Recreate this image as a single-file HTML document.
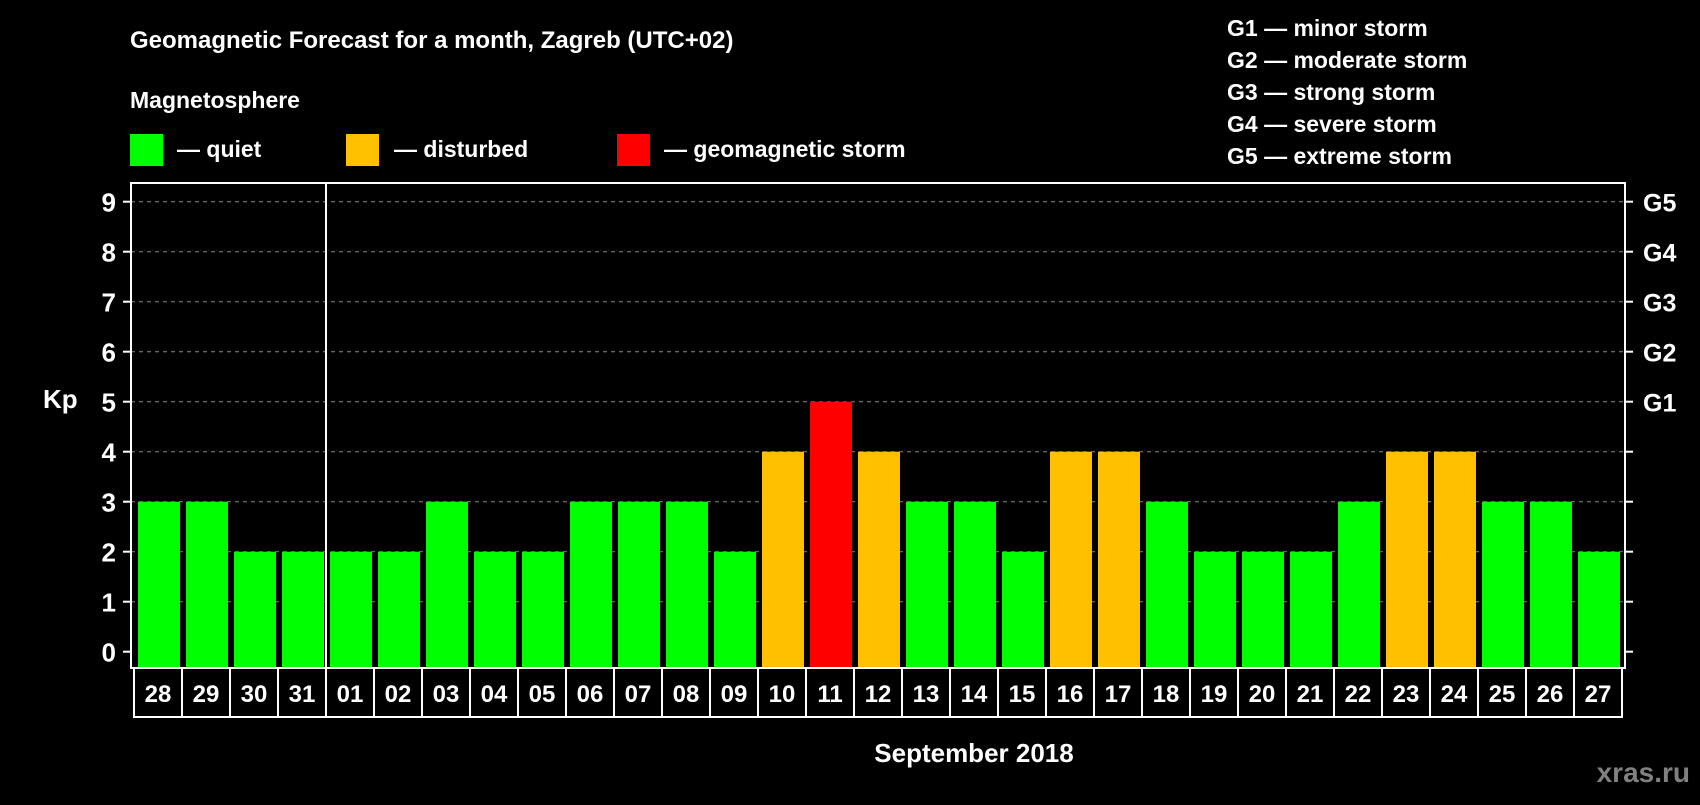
<!DOCTYPE html>
<html><head><meta charset="utf-8"><style>
html,body{margin:0;padding:0;background:#000;}
svg text{font-family:"Liberation Sans",Arial,sans-serif;font-weight:bold;fill:#fff;}
</style></head><body>
<svg id="chart" width="1700" height="800" viewBox="0 0 1700 800">
<text x="130" y="48" font-size="24">Geomagnetic Forecast for a month, Zagreb (UTC+02)</text>
<text x="130" y="108" font-size="23">Magnetosphere</text>
<rect x="130" y="134" width="33" height="32" fill="#00ff00"/>
<text x="177" y="157" font-size="23">— quiet</text>
<rect x="346" y="134" width="33" height="32" fill="#ffc000"/>
<text x="394" y="157" font-size="23">— disturbed</text>
<rect x="617" y="134" width="33" height="32" fill="#ff0000"/>
<text x="664" y="157" font-size="23">— geomagnetic storm</text>
<g font-size="23">
<text x="1227" y="36">G1 — minor storm</text>
<text x="1227" y="68">G2 — moderate storm</text>
<text x="1227" y="100">G3 — strong storm</text>
<text x="1227" y="132">G4 — severe storm</text>
<text x="1227" y="164">G5 — extreme storm</text>
</g>
<text x="43" y="408" font-size="26">Kp</text>
<text x="974" y="762" font-size="26" text-anchor="middle">September 2018</text>
<text x="1690" y="782" font-size="28" text-anchor="end" style="fill:#808080">xras.ru</text>
<g id="plot"></g>
</svg>
<script>
const days = ["28","29","30","31","01","02","03","04","05","06","07","08","09","10","11","12","13","14","15","16","17","18","19","20","21","22","23","24","25","26","27"];
const kpValues = [3,3,2,2,2,2,3,2,2,3,3,3,2,4,5,4,3,3,2,4,4,3,2,2,2,3,4,4,3,3,2];
const yTicks = [0,1,2,3,4,5,6,7,8,9];
const gLabels = ["G1","G2","G3","G4","G5"];
const NS="http://www.w3.org/2000/svg";
const plot=document.getElementById('plot');
const L=131,R=1625,T=183,B=668,slot0=134,pitch=48;
const y=v=>651.7-50*v;
const x=i=>slot0+pitch*i;
function mk(t,a){const e=document.createElementNS(NS,t);for(const k in a)e.setAttribute(k,a[k]);plot.appendChild(e);return e;}
yTicks.forEach(v=>{
  if(v>0){const g=mk('line',{x1:L,x2:R,y1:y(v),y2:y(v),stroke:'#888','stroke-dasharray':'4,4','stroke-width':1});
  
  }
  const t1=mk('line',{x1:L-8,x2:L,y1:y(v),y2:y(v),stroke:'#fff','stroke-width':2});
  
  
  const t2=mk('line',{x1:R,x2:R+8,y1:y(v),y2:y(v),stroke:'#fff','stroke-width':2});
  
  
  const tx=mk('text',{x:116,y:y(v)+10,'font-size':26,'text-anchor':'end'});
  tx.textContent=v;
  
  
});
gLabels.forEach((g,i)=>{
  const t=mk('text',{x:1643,y:y(5+i)+10,'font-size':25});
  t.textContent=g;
  
  
});
const frame=mk('rect',{x:L,y:T,width:R-L,height:B-T,fill:'none',stroke:'#fff','stroke-width':2});


const div=mk('line',{x1:x(4),x2:x(4),y1:T,y2:B,stroke:'#fff','stroke-width':2});


kpValues.forEach((v,i)=>{
  const c=v>=5?'#ff0000':v>=4?'#ffc000':'#00ff00';
  const b=mk('rect',{x:x(i)+4,y:y(v),width:42,height:B-y(v),fill:c});
  
  
  const cell=mk('rect',{x:x(i),y:B,width:pitch,height:49,fill:'none',stroke:'#fff','stroke-width':2});
  
  
  const t=mk('text',{x:x(i)+pitch/2,y:B+34,'font-size':24,'text-anchor':'middle'});
  t.textContent=days[i];
  
  
});
</script>
</body></html>
